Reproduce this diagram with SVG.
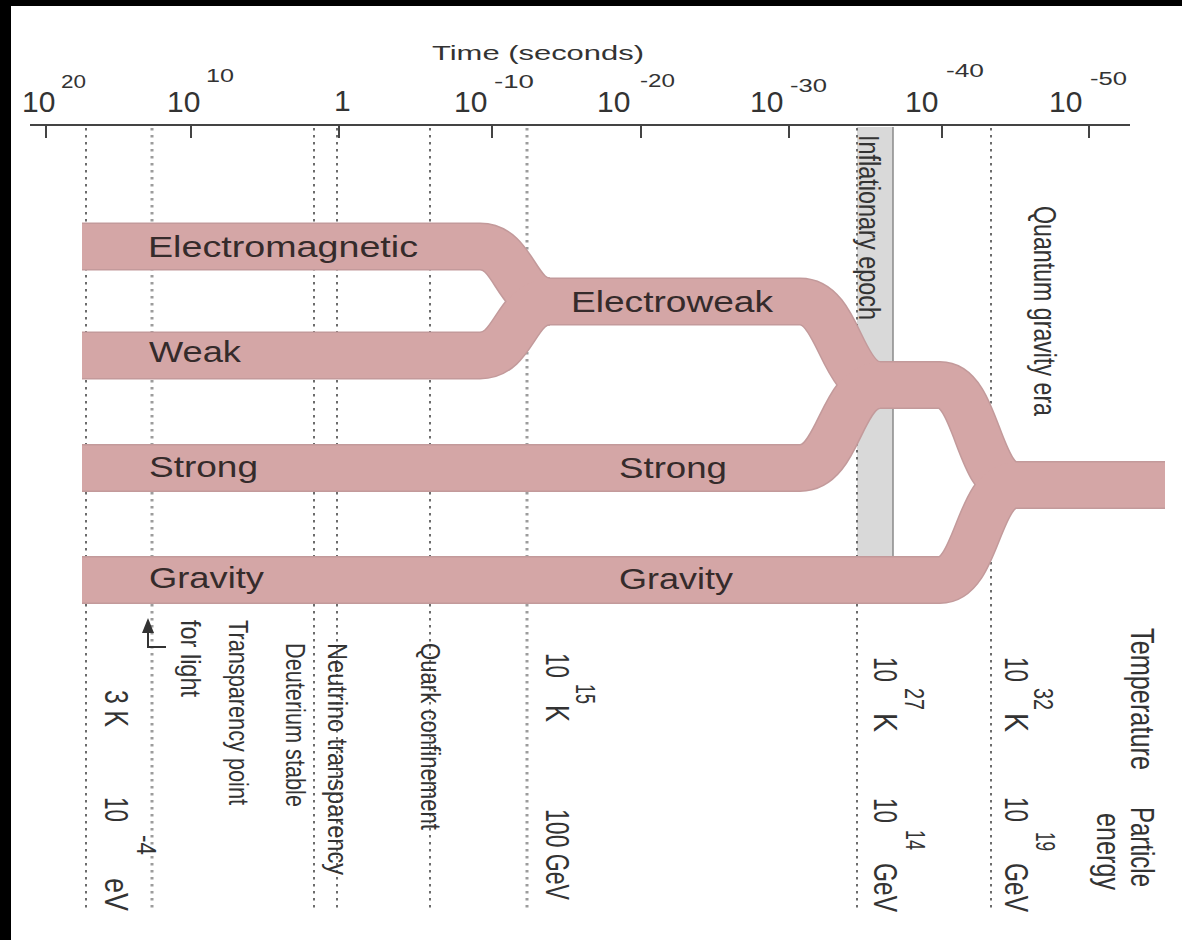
<svg xmlns="http://www.w3.org/2000/svg" width="1182" height="940" viewBox="0 0 1182 940">
<defs>
<style>
text { font-family: "Liberation Sans", Arial, Helvetica, sans-serif; fill: #333; }
.tick10 { font-size: 30px; }
.sup { font-size: 19px; }
.band-label { font-size: 30px; fill: #352b2b; }
.big { font-size: 33px; }
.bsup { font-size: 28px; }
.small { font-size: 28px; }
.dot { fill: none; stroke: #6c6c6c; stroke-width: 2; stroke-dasharray: 2.5 4.5; }
.dot2 { fill: none; stroke: #9c9c9c; stroke-width: 3; stroke-dasharray: 2.5 4.5; }
.axis { stroke: #444; stroke-width: 2; fill: none; }
.bo { fill: none; stroke: #c39a9b; stroke-width: 48; }
.bf { fill: none; stroke: #d4a6a6; stroke-width: 45; }
</style>
</defs>
<rect x="0" y="0" width="1182" height="940" fill="#ffffff"/>
<rect x="0" y="0" width="1182" height="6" fill="#000"/>
<rect x="0" y="0" width="11" height="940" fill="#000"/>

<g id="inflation-band">
<rect x="857" y="127" width="36" height="440" fill="#d9d9d9"/>
<line x1="893" y1="127" x2="893" y2="567" stroke="#8a8a8a" stroke-width="1.5"/>
</g>

<g id="grid-lines">
<line class="dot" x1="86" y1="128" x2="86" y2="912"/>
<line class="dot2" x1="152" y1="128" x2="152" y2="912"/>
<line class="dot" x1="314" y1="128" x2="314" y2="912"/>
<line class="dot" x1="337" y1="128" x2="337" y2="912"/>
<line class="dot" x1="430" y1="128" x2="430" y2="912"/>
<line class="dot2" x1="527" y1="128" x2="527" y2="912"/>
<line class="dot" x1="857" y1="128" x2="857" y2="912"/>
<line class="dot" x1="991" y1="128" x2="991" y2="912"/>
</g>

<g id="axis">
<line class="axis" x1="30" y1="125" x2="1130" y2="125"/>
<path class="axis" d="M46,125 V138 M191,125 V138 M339,125 V138 M492,125 V138 M641,125 V138 M789,125 V138 M942,125 V138 M1089,125 V138"/>
<text x="432" y="60" font-size="21" textLength="212" lengthAdjust="spacingAndGlyphs">Time (seconds)</text>
<text class="tick10" x="22" y="112">10</text>
<text class="sup" x="61" y="88" textLength="25" lengthAdjust="spacingAndGlyphs">20</text>
<text class="tick10" x="167" y="112">10</text>
<text class="sup" x="206" y="82" textLength="28" lengthAdjust="spacingAndGlyphs">10</text>
<text class="tick10" x="334" y="111">1</text>
<text class="tick10" x="454" y="112">10</text>
<text class="sup" x="494" y="88" textLength="40" lengthAdjust="spacingAndGlyphs">-10</text>
<text class="tick10" x="597" y="112">10</text>
<text class="sup" x="640" y="87" textLength="35" lengthAdjust="spacingAndGlyphs">-20</text>
<text class="tick10" x="750" y="112">10</text>
<text class="sup" x="790" y="92" textLength="37" lengthAdjust="spacingAndGlyphs">-30</text>
<text class="tick10" x="905" y="112">10</text>
<text class="sup" x="946" y="77" textLength="38" lengthAdjust="spacingAndGlyphs">-40</text>
<text class="tick10" x="1049" y="112">10</text>
<text class="sup" x="1090" y="85" textLength="37" lengthAdjust="spacingAndGlyphs">-50</text>
</g>

<g id="connectors">
<g id="band-outlines">
<path class="bo" d="M82,246.5 H480 C515,246.5 515,301.5 550,301.5"/>
<path class="bo" d="M82,355.5 H480 C515,355.5 515,301.5 550,301.5"/>
<path class="bo" d="M545,301.5 H800 C840,301.5 840,385 880,385"/>
<path class="bo" d="M82,468 H800 C840,468 840,385 880,385"/>
<path class="bo" d="M875,385 H940 C977.5,385 977.5,485 1015,485"/>
<path class="bo" d="M82,580 H940 C977.5,580 977.5,485 1015,485"/>
<path class="bo" d="M1010,485 H1165"/>
</g>
<g id="band-fills">
<path class="bf" d="M82,246.5 H480 C515,246.5 515,301.5 550,301.5"/>
<path class="bf" d="M82,355.5 H480 C515,355.5 515,301.5 550,301.5"/>
<path class="bf" d="M545,301.5 H800 C840,301.5 840,385 880,385"/>
<path class="bf" d="M82,468 H800 C840,468 840,385 880,385"/>
<path class="bf" d="M875,385 H940 C977.5,385 977.5,485 1015,485"/>
<path class="bf" d="M82,580 H940 C977.5,580 977.5,485 1015,485"/>
<path class="bf" d="M1010,485 H1165"/>
</g>
</g>

<g id="node-electromagnetic"><text class="band-label" x="148" y="257" textLength="270" lengthAdjust="spacingAndGlyphs">Electromagnetic</text></g>
<g id="node-weak"><text class="band-label" x="149" y="362" textLength="92" lengthAdjust="spacingAndGlyphs">Weak</text></g>
<g id="node-strong"><text class="band-label" x="149" y="477" textLength="109" lengthAdjust="spacingAndGlyphs">Strong</text></g>
<g id="node-gravity"><text class="band-label" x="149" y="588" textLength="115" lengthAdjust="spacingAndGlyphs">Gravity</text></g>
<g id="node-electroweak"><text class="band-label" x="571" y="312" textLength="202" lengthAdjust="spacingAndGlyphs">Electroweak</text></g>
<g id="node-strong-2"><text class="band-label" x="619" y="478" textLength="108" lengthAdjust="spacingAndGlyphs">Strong</text></g>
<g id="node-gravity-2"><text class="band-label" x="619" y="589" textLength="114" lengthAdjust="spacingAndGlyphs">Gravity</text></g>

<g id="era-labels">
<text font-size="30" transform="translate(859,135) rotate(90)" textLength="185" lengthAdjust="spacingAndGlyphs">Inflationary epoch</text>
<text font-size="31" transform="translate(1034,206) rotate(90)" textLength="210" lengthAdjust="spacingAndGlyphs">Quantum gravity era</text>
</g>

<g id="event-labels">
<text class="small" transform="translate(421,643) rotate(90)" textLength="187" lengthAdjust="spacingAndGlyphs">Quark confinement</text>
<text class="small" transform="translate(328,643) rotate(90)" textLength="232" lengthAdjust="spacingAndGlyphs">Neutrino transparency</text>
<text class="small" transform="translate(286,643) rotate(90)" textLength="164" lengthAdjust="spacingAndGlyphs">Deuterium stable</text>
<text class="small" transform="translate(229,620) rotate(90)" textLength="185" lengthAdjust="spacingAndGlyphs">Transparency point</text>
<text class="small" transform="translate(181,620) rotate(90)" textLength="77" lengthAdjust="spacingAndGlyphs">for light</text>
<g id="arrow-light">
<polygon points="148,618 142,633 154,633" fill="#333"/>
<path d="M148,633 V647 H166" fill="none" stroke="#333" stroke-width="2"/>
</g>
</g>

<g id="scale-labels">
<text class="big" transform="translate(105,690) rotate(90)" textLength="37" lengthAdjust="spacingAndGlyphs">3 K</text>
<text class="big" transform="translate(105,797) rotate(90)" textLength="25" lengthAdjust="spacingAndGlyphs">10</text>
<text class="bsup" transform="translate(137,835) rotate(90)" textLength="20" lengthAdjust="spacingAndGlyphs">-4</text>
<text class="big" transform="translate(105,878) rotate(90)" textLength="33" lengthAdjust="spacingAndGlyphs">eV</text>

<text class="big" transform="translate(546,653) rotate(90)" textLength="25" lengthAdjust="spacingAndGlyphs">10</text>
<text class="bsup" transform="translate(576,684) rotate(90)" textLength="20" lengthAdjust="spacingAndGlyphs">15</text>
<text class="big" transform="translate(546,705) rotate(90)" textLength="17" lengthAdjust="spacingAndGlyphs">K</text>
<text class="big" transform="translate(546,809) rotate(90)" textLength="91" lengthAdjust="spacingAndGlyphs">100 GeV</text>

<text class="big" transform="translate(874,657) rotate(90)" textLength="25" lengthAdjust="spacingAndGlyphs">10</text>
<text class="bsup" transform="translate(905,688) rotate(90)" textLength="22" lengthAdjust="spacingAndGlyphs">27</text>
<text class="big" transform="translate(874,713) rotate(90)" textLength="19" lengthAdjust="spacingAndGlyphs">K</text>
<text class="big" transform="translate(874,798) rotate(90)" textLength="25" lengthAdjust="spacingAndGlyphs">10</text>
<text class="bsup" transform="translate(906,830) rotate(90)" textLength="20" lengthAdjust="spacingAndGlyphs">14</text>
<text class="big" transform="translate(874,863) rotate(90)" textLength="49" lengthAdjust="spacingAndGlyphs">GeV</text>

<text class="big" transform="translate(1005,657) rotate(90)" textLength="25" lengthAdjust="spacingAndGlyphs">10</text>
<text class="bsup" transform="translate(1034,688) rotate(90)" textLength="22" lengthAdjust="spacingAndGlyphs">32</text>
<text class="big" transform="translate(1005,713) rotate(90)" textLength="19" lengthAdjust="spacingAndGlyphs">K</text>
<text class="big" transform="translate(1005,797) rotate(90)" textLength="25" lengthAdjust="spacingAndGlyphs">10</text>
<text class="bsup" transform="translate(1036,832) rotate(90)" textLength="19" lengthAdjust="spacingAndGlyphs">19</text>
<text class="big" transform="translate(1005,863) rotate(90)" textLength="49" lengthAdjust="spacingAndGlyphs">GeV</text>

<text class="big" transform="translate(1131,628) rotate(90)" textLength="142" lengthAdjust="spacingAndGlyphs">Temperature</text>
<text class="big" transform="translate(1131,807) rotate(90)" textLength="80" lengthAdjust="spacingAndGlyphs">Particle</text>
<text class="big" transform="translate(1097,813) rotate(90)" textLength="77" lengthAdjust="spacingAndGlyphs">energy</text>
</g>
</svg>
